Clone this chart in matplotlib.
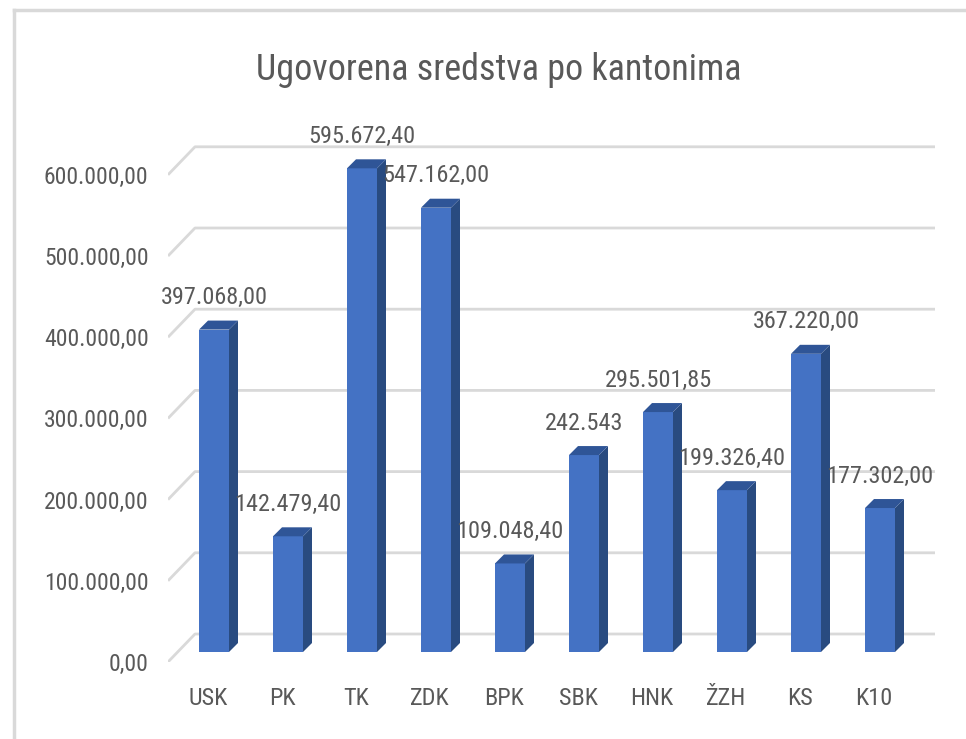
import numpy as np
import matplotlib.pyplot as plt
from matplotlib.lines import Line2D

plt.rcParams['font.family'] = ['Liberation Sans Narrow', 'Roboto Condensed', 'DejaVu Sans']
plt.rcParams['font.stretch'] = 'condensed'

cantons = ['USK', 'PK', 'TK', 'ZDK', 'BPK', 'SBK', 'HNK', 'ŽZH', 'KS', 'K10']
amounts = np.array([397068.00, 142479.40, 595672.40, 547162.00, 109048.40,
                    242543.00, 295501.85, 199326.40, 367220.00, 177302.00])
decimals = [2, 2, 2, 2, 2, 0, 2, 2, 2, 2]
yticks = np.arange(0, 600001, 100000)


def eu_fmt(v, d=2):
    s = f"{v:,.{d}f}"
    return s.replace(',', 'X').replace('.', ',').replace('X', '.')


# pseudo-3D geometry (one pixel expressed in data units)
PX = 1 / 74.0
PY = 1e5 / 81.2
bar_w = 30 * PX
side_dx, side_dy = 9 * PX, 9 * PY
front_dy = -10 * PY   # floor front edge vs bar faces
back_dy = 18 * PY     # back wall vs bar faces

front_col = '#4472C4'
side_col = '#294B80'
top_col = '#2F5597'
grid_col = '#D9D9D9'
text_col = '#595959'

fig = plt.figure(figsize=(9.66, 7.39), dpi=100)
W, H = 966, 739
ax = fig.add_axes([168 / W, (H - 662) / H, (935 - 168) / W, (662 - 100) / H])
x_left = -46 * PX
x_right = 721 * PX
ax.set_xlim(x_left, x_right)
ax.set_ylim(front_dy, 552 * PY)

# gridlines: floor diagonal + back wall
for v in yticks:
    ax.plot([x_left, x_left + 27 * PX, x_right], [v + front_dy, v + back_dy, v + back_dy],
            color=grid_col, lw=2, zorder=1, solid_capstyle='butt')

# bars
x = np.arange(len(cantons))
for xi, v in zip(x, amounts):
    l, r = xi - bar_w / 2, xi + bar_w / 2
    ax.fill([l, r, r, l], [0, 0, v, v], color=front_col, zorder=3, lw=0)
    ax.fill([r, r + side_dx, r + side_dx, r], [0, side_dy, v + side_dy, v],
            color=side_col, zorder=3, lw=0)
    ax.fill([l, r, r + side_dx, l + side_dx], [v, v, v + side_dy, v + side_dy],
            color=top_col, zorder=3, lw=0)

# data labels
for xi, v, d in zip(x, amounts, decimals):
    ax.annotate(eu_fmt(v, d), (xi, v), xytext=(0, 23), textcoords='offset points',
                ha='center', va='center', fontsize=17.5, color=text_col, zorder=4)

ax.set_yticks(yticks + front_dy)
ax.set_yticklabels([eu_fmt(v) for v in yticks])
ax.set_xticks(x - 6 * PX)
ax.set_xticklabels(cantons)
ax.tick_params(axis='y', length=0, pad=14, labelsize=17, labelcolor=text_col)
ax.tick_params(axis='x', length=0, pad=18, labelsize=17.5, labelcolor=text_col)
for s in ax.spines.values():
    s.set_visible(False)
ax.patch.set_alpha(0)

fig.text(499 / W, 1 - 70 / H, 'Ugovorena sredstva po kantonima', ha='center', va='center',
         fontsize=26, color=text_col)

# chart frame (top and left edges visible)
fig.add_artist(Line2D([14 / W, 1], [1 - 10 / H, 1 - 10 / H], color=grid_col, lw=2.5))
fig.add_artist(Line2D([14 / W, 14 / W], [0, 1 - 10 / H], color=grid_col, lw=2.5))

fig.savefig('out.png', dpi=100)
